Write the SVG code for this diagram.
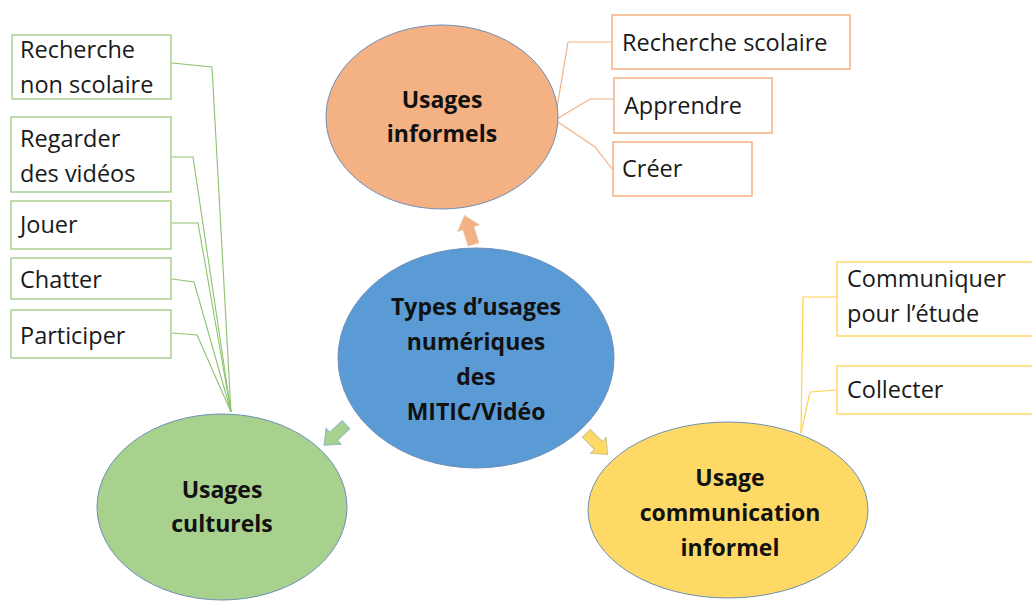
<svg xmlns="http://www.w3.org/2000/svg" width="1032" height="601" viewBox="0 0 1032 601">
<defs>
<style>
.t{font-family:"Open Sans","Liberation Sans",sans-serif;font-size:23.5px;fill:#1a1a1a}
.b{font-family:"Open Sans","Liberation Sans",sans-serif;font-size:23px;font-weight:bold;fill:#111;text-anchor:middle}
.ell{stroke:#6f8fb8;stroke-width:1}
.bo{fill:#fff;stroke:#F4B183;stroke-width:1.5}
.bg{fill:#fff;stroke:#A9D18E;stroke-width:1.5}
.by{fill:#fff;stroke:#FFD966;stroke-width:1.5}
.co{fill:none;stroke:#F4B183;stroke-width:1.2}
.cg{fill:none;stroke:#8DC26F;stroke-width:1.1}
.cy{fill:none;stroke:#FFD24D;stroke-width:1.2}
</style>
<path id="arr" d="M0,-15 L11,-2 L5.5,-2 L5.5,15 L-5.5,15 L-5.5,-2 L-11,-2 Z"/>
</defs>
<rect width="1032" height="601" fill="#fff"/>
<g id="connectors">
<polyline class="co" points="612,42 568,42 555,120"/>
<polyline class="co" points="614,99 590,99 555,120"/>
<polyline class="co" points="613,170 595,147 555,120"/>
<polyline class="cg" points="172,63 212,67 231,412"/>
<polyline class="cg" points="172,157 193,157 231,412"/>
<polyline class="cg" points="172,223 198,223 231,412"/>
<polyline class="cg" points="172,279 194,282 231,412"/>
<polyline class="cg" points="172,333 197,335 231,412"/>
<polyline class="cy" points="837,297 803,297 801,433"/>
<polyline class="cy" points="837,390 810,392 801,433"/>
<use href="#arr" transform="translate(469,230) rotate(-17)" fill="#F4B183" stroke="#e8c0a0" stroke-width="1"/>
<use href="#arr" transform="translate(335,435) rotate(-133)" fill="#A9D18E" stroke="#8fb7c8" stroke-width="1"/>
<use href="#arr" transform="translate(597,444) rotate(135)" fill="#FFD966" stroke="#c9c08a" stroke-width="1"/>
</g>
<g id="informels">
<ellipse class="ell" cx="442" cy="117" rx="116" ry="92" fill="#F4B183"/>
<text class="b" x="442" y="108">Usages</text>
<text class="b" x="442" y="142">informels</text>
</g>
<g id="centre">
<ellipse class="ell" cx="476" cy="358" rx="138" ry="110" fill="#5B9BD5"/>
<text class="b" x="476" y="315">Types d’usages</text>
<text class="b" x="476" y="350">numériques</text>
<text class="b" x="476" y="385">des</text>
<text class="b" x="476" y="420">MITIC/Vidéo</text>
</g>
<g id="culturels">
<ellipse class="ell" cx="222" cy="507" rx="125" ry="93" fill="#A9D18E"/>
<text class="b" x="222" y="498">Usages</text>
<text class="b" x="222" y="532">culturels</text>
</g>
<g id="communication">
<ellipse class="ell" cx="728" cy="510" rx="140" ry="88" fill="#FFD966"/>
<text class="b" x="730" y="486">Usage</text>
<text class="b" x="730" y="521">communication</text>
<text class="b" x="730" y="556">informel</text>
</g>
<g id="recherche-scolaire"><rect class="bo" x="612" y="15" width="238" height="54"/><text class="t" x="622" y="51">Recherche scolaire</text></g>
<g id="apprendre"><rect class="bo" x="614" y="78" width="158" height="55"/><text class="t" x="624" y="114">Apprendre</text></g>
<g id="creer"><rect class="bo" x="613" y="142" width="139" height="54"/><text class="t" x="622" y="177">Créer</text></g>
<g id="recherche-non-scolaire"><rect class="bg" x="12" y="35" width="159" height="64"/><text class="t" x="20" y="58">Recherche</text><text class="t" x="20" y="93">non scolaire</text></g>
<g id="regarder"><rect class="bg" x="11" y="117" width="160" height="75"/><text class="t" x="20" y="147">Regarder</text><text class="t" x="20" y="182">des vidéos</text></g>
<g id="jouer"><rect class="bg" x="11" y="201" width="160" height="48"/><text class="t" x="20" y="233">Jouer</text></g>
<g id="chatter"><rect class="bg" x="11" y="258" width="160" height="41"/><text class="t" x="20" y="288">Chatter</text></g>
<g id="participer"><rect class="bg" x="11" y="310" width="160" height="48"/><text class="t" x="20" y="344">Participer</text></g>
<g id="communiquer"><rect class="by" x="837" y="262" width="210" height="74"/><text class="t" x="847" y="287">Communiquer</text><text class="t" x="847" y="322">pour l’étude</text></g>
<g id="collecter"><rect class="by" x="837" y="366" width="210" height="48"/><text class="t" x="847" y="398">Collecter</text></g>
</svg>
